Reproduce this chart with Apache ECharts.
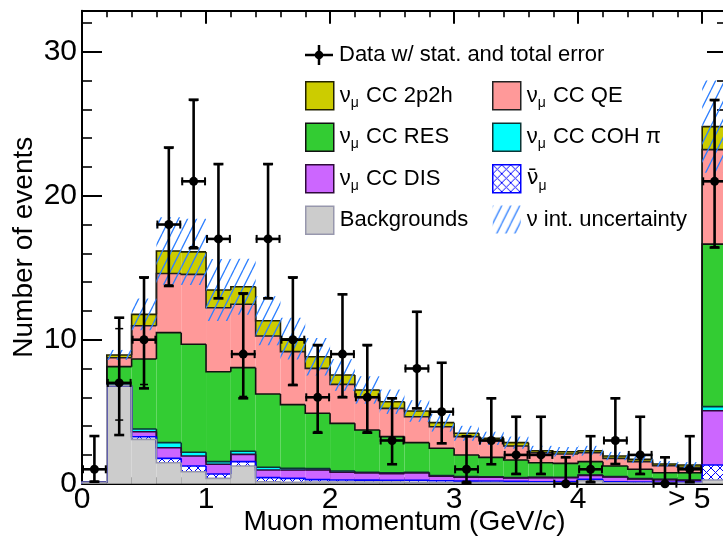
<!DOCTYPE html>
<html>
<head>
<meta charset="utf-8">
<script src="https://cdn.jsdelivr.net/npm/echarts@6/dist/echarts.min.js"></script>
<style>html,body{margin:0;padding:0;background:#fff}#c{width:723px;height:541px}</style>
</head>
<body>
<div id="c"></div>
<script>
// ---------------- data ----------------
const binEdges = [0,0.2,0.4,0.6,0.8,1.0,1.2,1.4,1.6,1.8,2.0,2.2,2.4,2.6,2.8,3.0,3.2,3.4,3.6,3.8,4.0,4.2,4.4,4.6,4.8,5.0,5.2];
const xTickLabels = ['0','1','2','3','4','> 5'];
const yTickLabels = ['0','10','20','30'];

// stacked MC components, bottom to top
const backgrounds = [0.10,6.81,3.08,1.46,0.83,0.37,1.23,0.14,0.10,0.12,0.12,0.12,0.12,0.10,0.08,0.08,0.08,0.06,0.06,0.06,0.20,0.06,0.05,0.05,0.05,0.26];
const antiNumu    = [0,0,0.18,0.30,0.40,0.30,0.30,0.28,0.27,0.16,0.14,0.13,0.12,0.14,0.12,0.10,0.10,0.10,0.08,0.08,0.10,0.08,0.07,0.05,0.05,1.04];
const ccDIS       = [0,0,0.35,0.74,0.69,0.68,0.51,0.53,0.58,0.67,0.54,0.49,0.46,0.50,0.32,0.27,0.27,0.24,0.28,0.28,0.28,0.33,0.21,0.18,0.13,3.77];
const ccCOH       = [0,0,0.19,0.35,0.26,0.18,0.21,0.19,0.12,0.10,0.08,0.06,0.05,0.05,0.04,0.04,0.03,0.02,0.02,0.02,0.02,0.02,0.02,0.02,0.02,0.28];
const ccRES       = [0,1.32,4.86,7.64,7.50,6.25,5.81,5.09,4.42,3.84,3.31,2.93,2.52,2.06,1.90,1.50,1.35,1.23,1.02,0.97,0.93,0.74,0.65,0.46,0.51,11.29];
const ccQE        = [0,0.62,2.31,4.11,4.86,4.44,4.40,4.03,3.68,3.12,2.71,2.31,1.96,1.80,1.50,1.28,1.16,0.97,0.69,0.65,0.62,0.53,0.53,0.49,0.38,6.56];
const cc2p2h      = [0,0.19,0.79,1.56,1.56,1.23,1.22,1.06,0.90,0.81,0.65,0.47,0.46,0.40,0.28,0.23,0.16,0.23,0.14,0.16,0.14,0.16,0.16,0.12,0.16,1.60];
const xsecUnc     = [0,0.35,1.1,2.35,2.3,2.15,1.95,1.7,1.45,1.3,1.1,0.95,0.85,0.75,0.62,0.52,0.46,0.42,0.34,0.33,0.34,0.29,0.25,0.2,0.2,3.2];

// data points
const dataCounts = [1,7,10,18,21,17,9,17,10,6,9,6,3,8,5,1,3,2,2,0,1,3,2,0,1,21];
const statLow  = [0.17,4.42,6.89,13.80,16.46,12.92,6.06,12.92,6.89,3.62,6.06,3.62,1.37,5.23,2.84,0.17,1.37,0.71,0.71,0,0.17,1.37,0.71,0,0.17,16.46];
const statHigh = [3.30,10.77,14.27,23.29,26.61,22.17,13.15,22.17,14.27,9.58,13.15,9.58,5.92,11.95,8.38,3.30,5.92,4.64,4.64,1.84,3.30,5.92,4.64,1.84,3.30,26.61];
const totLow   = [0.14,3.38,6.62,13.73,16.35,12.87,5.93,12.87,6.85,3.54,6.00,3.54,1.35,5.23,2.80,0.07,1.35,0.67,0.67,0,0.10,1.37,0.67,0,0.10,16.40];
const totHigh  = [3.31,11.53,14.33,23.35,26.67,22.20,13.22,22.20,14.33,9.63,13.15,9.63,5.93,11.94,8.40,3.30,5.93,4.65,4.65,1.83,3.30,5.93,4.65,1.83,3.30,26.65];

// ---------------- styles ----------------
const FONT = "'Liberation Sans', Arial, Helvetica, sans-serif";

function makeHatch() {
  const w = 9, h = 18, c = document.createElement('canvas');
  c.width = w; c.height = h;
  const g = c.getContext('2d');
  g.strokeStyle = '#2f80ff'; g.lineWidth = 1.3;
  g.beginPath();
  for (let k = -1; k <= 1; k++) { g.moveTo(k * w, h); g.lineTo(k * w + w, 0); }
  g.stroke();
  return c;
}
function makeCross() {
  const s = 9, c = document.createElement('canvas');
  c.width = s; c.height = s;
  const g = c.getContext('2d');
  g.fillStyle = '#ffffff'; g.fillRect(0, 0, s, s);
  g.strokeStyle = '#0000ff'; g.lineWidth = 1;
  g.beginPath(); g.moveTo(0, 0); g.lineTo(s, s); g.moveTo(s, 0); g.lineTo(0, s); g.stroke();
  return c;
}
function makeDataIcon() {
  const c = document.createElement('canvas');
  c.width = 28; c.height = 28;
  const g = c.getContext('2d');
  g.strokeStyle = '#000'; g.lineWidth = 2.5;
  g.beginPath(); g.moveTo(0, 14); g.lineTo(28, 14); g.moveTo(14, 4); g.lineTo(14, 24); g.stroke();
  g.fillStyle = '#000'; g.beginPath(); g.arc(14, 14, 4.3, 0, Math.PI * 2); g.fill();
  return 'image://' + c.toDataURL();
}
const hatchPattern = { image: makeHatch(), repeat: 'repeat' };
const crossPattern = { image: makeCross(), repeat: 'repeat' };

const comps = [
  { name: 'bg',   vals: backgrounds, fill: '#cccccc', edge: '#9797ad' },
  { name: 'anti', vals: antiNumu,    fill: crossPattern, edge: '#0000ff' },
  { name: 'DIS',  vals: ccDIS,       fill: '#cc66ff', edge: '#2e0a3a' },
  { name: 'COH',  vals: ccCOH,       fill: '#00ffff', edge: '#0b3535' },
  { name: 'RES',  vals: ccRES,       fill: '#33cc33', edge: '#111111' },
  { name: 'QE',   vals: ccQE,        fill: '#ff9999', edge: '#222222' },
  { name: '2p2h', vals: cc2p2h,      fill: '#cccc00', edge: '#222200' }
];

const nBins = binEdges.length - 1;
let base = new Array(nBins).fill(0);
const series = [];
comps.forEach((c, k) => {
  const top = base.map((b, i) => b + c.vals[i]);
  const items = [];
  for (let i = 0; i < nBins; i++) {
    items.push([binEdges[i], binEdges[i + 1], base[i], top[i], i > 0 ? top[i - 1] : 0]);
  }
  const fill = c.fill, edge = c.edge, zOut = 30 - k;
  series.push({
    type: 'custom', name: c.name, z: 2,
    data: items,
    encode: { x: [0, 1], y: [2, 3] },
    itemStyle: { color: fill, borderColor: edge, borderWidth: 1.5 },
    renderItem: (params, api) => {
      const x0 = api.value(0), x1 = api.value(1), b = api.value(2), t = api.value(3), p = api.value(4);
      const lt = api.coord([x0, t]), rb = api.coord([x1, b]), rt = api.coord([x1, t]), lp = api.coord([x0, p]);
      const ch = [];
      if (t > b) ch.push({ type: 'rect', z2: 0, shape: { x: lt[0], y: lt[1], width: rb[0] - lt[0], height: rb[1] - lt[1] }, style: { fill: fill, stroke: 'none' } });
      ch.push({ type: 'polyline', z2: zOut, shape: { points: [lp, lt, rt] }, style: { fill: 'none', stroke: edge, lineWidth: 1.6 } });
      return { type: 'group', children: ch };
    }
  });
  base = top;
});
const totalMC = base;

// uncertainty band
series.push({
  type: 'custom', name: 'unc', z: 3,
  data: totalMC.map((t, i) => [binEdges[i], binEdges[i + 1], t - xsecUnc[i], t + xsecUnc[i]]),
  encode: { x: [0, 1], y: [2, 3] },
  itemStyle: { color: hatchPattern, borderWidth: 0 },
  renderItem: (params, api) => {
    const lo = api.value(2), hi = api.value(3);
    if (hi - lo <= 0) return null;
    const lt = api.coord([api.value(0), hi]), rb = api.coord([api.value(1), lo]);
    return { type: 'rect', shape: { x: lt[0], y: lt[1], width: rb[0] - lt[0], height: rb[1] - lt[1] }, style: { fill: hatchPattern, stroke: 'none' } };
  }
});

// data points with errors
series.push({
  type: 'custom', name: 'data', z: 5,
  data: dataCounts.map((n, i) => [(binEdges[i] + binEdges[i + 1]) / 2, n, statLow[i], statHigh[i], totLow[i], totHigh[i], binEdges[i], binEdges[i + 1]]),
  encode: { x: 0, y: 1 },
  itemStyle: { color: '#000' },
  renderItem: (params, api) => {
    const c = api.coord([api.value(0), api.value(1)]);
    const sLo = api.coord([api.value(0), api.value(2)])[1], sHi = api.coord([api.value(0), api.value(3)])[1];
    const tLo = api.coord([api.value(0), api.value(4)])[1], tHi = api.coord([api.value(0), api.value(5)])[1];
    const xl = api.coord([api.value(6), api.value(1)])[0], xr = api.coord([api.value(7), api.value(1)])[0];
    const st = { stroke: '#000', lineWidth: 2.6 };
    const th = { stroke: '#000', lineWidth: 1.5 };
    const L = (x1, y1, x2, y2, s) => ({ type: 'line', shape: { x1, y1, x2, y2 }, style: s });
    return { type: 'group', children: [
      L(c[0], tLo, c[0], tHi, st),
      L(c[0] - 5, tLo, c[0] + 5, tLo, st),
      L(c[0] - 5, tHi, c[0] + 5, tHi, st),
      L(c[0] - 4, sLo, c[0] + 4, sLo, th),
      L(c[0] - 4, sHi, c[0] + 4, sHi, th),
      L(xl, c[1], xr, c[1], st),
      L(xl + 1, c[1] - 4, xl + 1, c[1] + 4, { stroke: '#000', lineWidth: 2 }),
      L(xr - 1, c[1] - 4, xr - 1, c[1] + 4, { stroke: '#000', lineWidth: 2 }),
      { type: 'circle', shape: { cx: c[0], cy: c[1], r: 4.5 }, style: { fill: '#000' } }
    ] };
  }
});

// ---------------- legend ----------------
const legendText = {
  'data': '{g|Data w/ stat. and total error}',
  '2p2h': '{g|ν}{s|μ}{g| CC 2p2h}',
  'QE':   '{g|ν}{s|μ}{g| CC QE}',
  'RES':  '{g|ν}{s|μ}{g| CC RES}',
  'COH':  '{g|ν}{s|μ}{g| CC COH π}',
  'DIS':  '{g|ν}{s|μ}{g| CC DIS}',
  'anti': '{a|ν̄}{s|μ}',
  'bg':   '{g|Backgrounds}',
  'unc':  '{g|ν int. uncertainty}'
};
const legendRich = {
  g: { fontFamily: FONT, fontSize: 22, color: '#000', lineHeight: 28, padding: [0, 0, 0, 1] },
  a: { fontFamily: "'DejaVu Sans', sans-serif", fontSize: 21, color: '#000', lineHeight: 28, padding: [0, 0, 0, 1] },
  s: { fontFamily: FONT, fontSize: 14, color: '#000', lineHeight: 14, verticalAlign: 'bottom' }
};
const compStyle = {};
comps.forEach(c => compStyle[c.name] = { color: c.fill, borderColor: c.edge, borderWidth: 1.5 });
const legItem = name => ({ name, icon: 'rect', itemStyle: compStyle[name] });
const legendBase = {
  orient: 'vertical', padding: 0, itemWidth: 28, itemHeight: 28, itemGap: 12,
  selectedMode: false, formatter: n => legendText[n],
  textStyle: { fontFamily: FONT, fontSize: 22, color: '#000', rich: legendRich }
};

// ---------------- axes ----------------
const axisCommonX = {
  type: 'value', min: 0, max: 5.2, interval: 1,
  axisLine: { show: true, onZero: false, lineStyle: { color: '#000', width: 2 } },
  axisTick: { show: true, inside: true, length: 13, lineStyle: { color: '#000', width: 2 } },
  minorTick: { show: true, splitNumber: 5, length: 6.5, lineStyle: { color: '#000', width: 1.6 } },
  splitLine: { show: false }
};
const axisCommonY = {
  type: 'value', min: 0, max: 32.85, interval: 10,
  axisLine: { show: true, onZero: false, lineStyle: { color: '#000', width: 2 } },
  axisTick: { show: true, inside: true, length: 20, lineStyle: { color: '#000', width: 2 } },
  minorTick: { show: true, splitNumber: 5, length: 10, lineStyle: { color: '#000', width: 1.6 } },
  splitLine: { show: false }
};

const option = {
  backgroundColor: '#fff',
  animation: false,
  grid: { left: 82, top: 10.7, right: -4, bottom: 57.3, containLabel: false, outerBoundsMode: 'none' },
  xAxis: [
    Object.assign({}, axisCommonX, {
      position: 'bottom',
      name: '{n|Muon momentum (GeV/}{i|c}{n|)}', nameLocation: 'middle', nameGap: 25, nameMoveOverlap: false,
      nameTextStyle: { rich: { n: { fontFamily: FONT, fontSize: 28, color: '#000' }, i: { fontFamily: FONT, fontSize: 28, fontStyle: 'italic', color: '#000' } } },
      axisLabel: {
        show: true, margin: 1, fontFamily: FONT, fontSize: 30, color: '#000', showMaxLabel: false,
        formatter: v => {
          const i = Math.round(v);
          if (Math.abs(v - i) > 1e-6 || i >= xTickLabels.length) return '';
          return i === 5 ? '{r|' + xTickLabels[i] + '}' : xTickLabels[i];
        },
        rich: { r: { fontFamily: FONT, fontSize: 30, color: '#000', padding: [0, 26, 0, 0] } }
      }
    }),
    Object.assign({}, axisCommonX, { position: 'top', axisLabel: { show: false } })
  ],
  yAxis: [
    Object.assign({}, axisCommonY, {
      position: 'left',
      name: 'Number of events', nameLocation: 'middle', nameGap: 44, nameRotate: 90, nameMoveOverlap: false,
      nameTextStyle: { fontFamily: FONT, fontSize: 28, color: '#000' },
      axisLabel: {
        show: true, margin: 5, fontFamily: FONT, fontSize: 30, color: '#000', showMaxLabel: false,
        formatter: v => { const i = Math.round(v / 10); return (Math.abs(v - i * 10) < 1e-6 && i < yTickLabels.length) ? yTickLabels[i] : ''; }
      }
    }),
    Object.assign({}, axisCommonY, { position: 'right', axisLabel: { show: false } })
  ],
  legend: [
    Object.assign({}, legendBase, { left: 305, top: 41, data: [{ name: 'data', icon: makeDataIcon() }] }),
    Object.assign({}, legendBase, { left: 305, top: 81, data: ['2p2h', 'RES', 'DIS', 'bg'].map(legItem) }),
    Object.assign({}, legendBase, { left: 492, top: 81, data: [legItem('QE'), legItem('COH'), legItem('anti'),
      { name: 'unc', icon: 'rect', itemStyle: { color: hatchPattern, borderWidth: 0 } }] })
  ],
  series: series
};

const chart = echarts.init(document.getElementById('c'), null, { renderer: 'canvas' });
chart.setOption(option);
</script>
</body>
</html>
